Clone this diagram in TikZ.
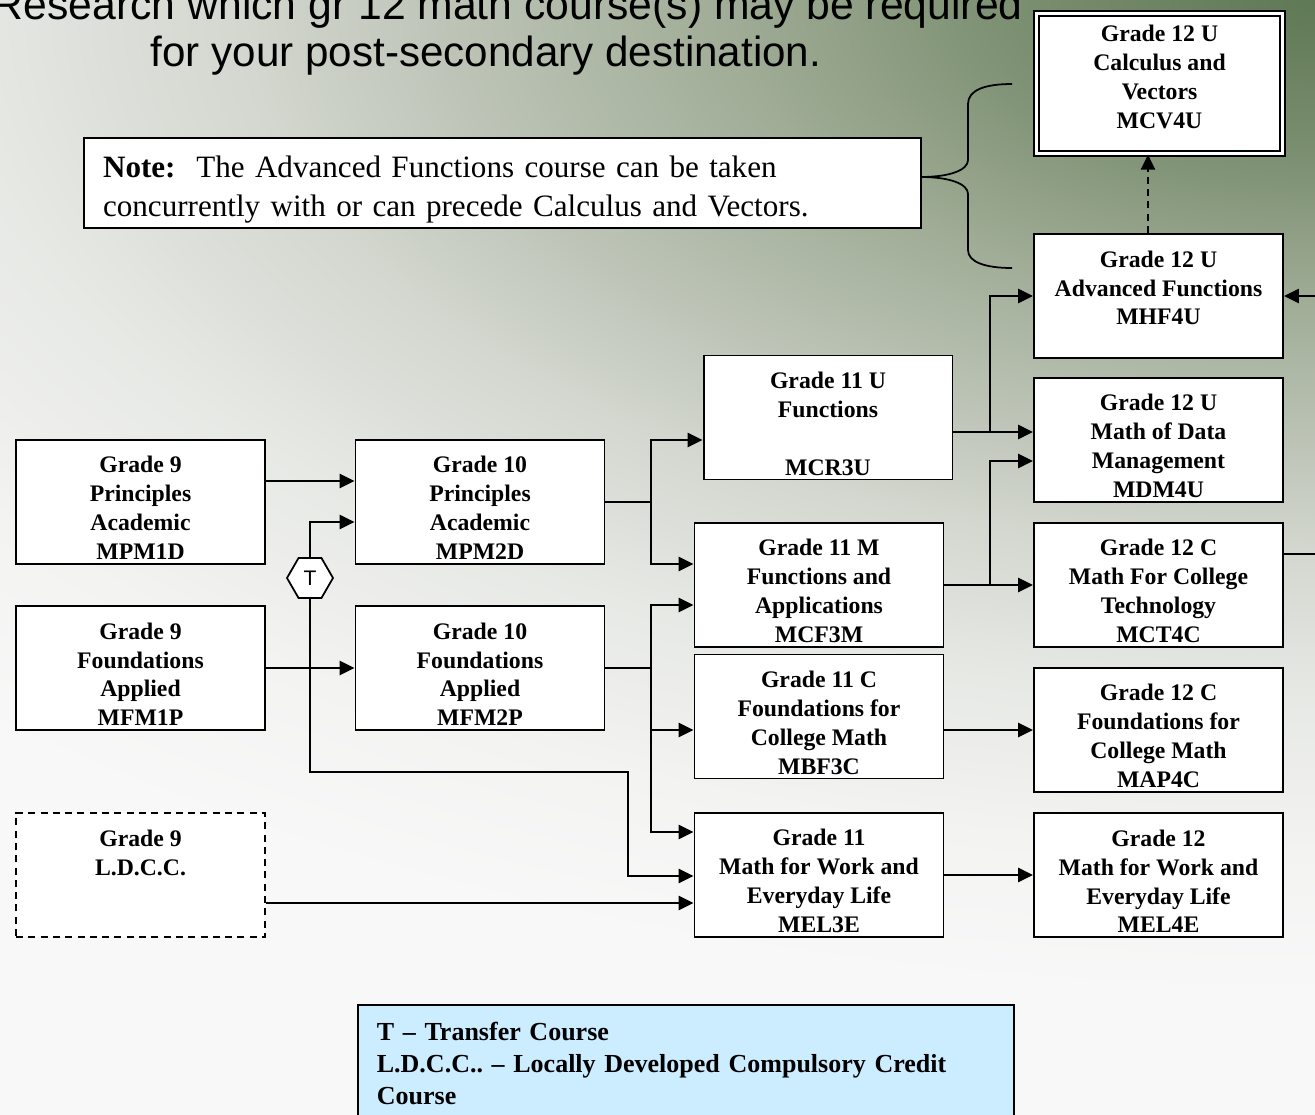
\documentclass[tikz,border=0pt]{standalone}
\usepackage{fontspec}
\setmainfont{Liberation Serif}
\newfontfamily\slidefont{Liberation Sans}
\usetikzlibrary{arrows.meta,shapes.geometric}

\definecolor{bg0}{RGB}{95,120,85}
\definecolor{bg1}{RGB}{122,142,112}
\definecolor{bg2}{RGB}{160,172,150}
\definecolor{bg3}{RGB}{190,197,184}
\definecolor{bg4}{RGB}{211,215,207}
\definecolor{bg5}{RGB}{231,233,229}
\definecolor{bg6}{RGB}{243,243,242}
\definecolor{bg7}{RGB}{248,248,248}
\definecolor{keyblue}{RGB}{204,236,255}
\pgfdeclareradialshading{slidebg}{\pgfpointorigin}{color(0bp)=(bg0); color(3.75bp)=(bg1); color(7.5bp)=(bg2);
  color(11.25bp)=(bg3); color(13.75bp)=(bg4); color(17.5bp)=(bg5); color(21.25bp)=(bg6); color(25bp)=(bg7); color(50bp)=(bg7)}

\newcommand\gradeline{\rule{0pt}{16.5pt}}
\newcommand\noteline{\rule{0pt}{20pt}}

\tikzset{
  course/.style={draw, fill=white, line width=1.1pt, minimum width=4.98cm, minimum height=2.48cm,
    inner sep=0pt, align=center, font=\bfseries\fontsize{13.5}{16.5}\selectfont},
  ldbox/.style={course, dash pattern=on 4pt off 3pt},
  calcbox/.style={course, double, double distance=1.8pt, line width=1.3pt, minimum width=4.92cm, minimum height=2.8cm},
  notebox/.style={draw, fill=white, line width=1.1pt, minimum width=16.74cm, minimum height=1.8cm,
    text width=15.98cm, inner xsep=0.38cm, inner ysep=0pt, align=left, font=\fontsize{17.7}{22.2}\selectfont},
  keybox/.style={draw, fill=keyblue, line width=1pt, text width=12.36cm, inner xsep=0.38cm, inner ysep=0.34cm,
    align=left, font=\frenchspacing\bfseries\fontsize{14.8}{18.2}\selectfont},
  headline/.style={anchor=base, font=\slidefont\fontsize{24}{26.7}\selectfont},
  transfer/.style={draw, fill=white, line width=1pt, regular polygon, regular polygon sides=6,
    minimum size=0.92cm, inner sep=0pt, font=\slidefont\fontsize{12}{14}\selectfont},
  link/.style={line width=1.2pt},
  feed/.style={link, -{Triangle[length=8.5pt,width=8pt]}}
}

\begin{document}
\begin{tikzpicture}[x=0.02cm, y=-0.02cm]
  \useasboundingbox (0,0) rectangle (1315,1115);
  \begin{scope}
    \clip (0,0) rectangle (1315,1115);
    \fill[bg7] (0,0) rectangle (1315,1115);
    \shade[shading=slidebg] (1315,0) ellipse [x radius=39cm, y radius=20cm];
  \end{scope}

  \node[headline, anchor=base east, font=\slidefont\fontsize{24.3}{26.7}\selectfont] (research) at (1029,20)
    {Research which gr 12 math course(s) may be required};
  \node[headline] (destination) at (486,67) {for your post-secondary destination.};

  \node[notebox] (note) at (502.5,183)
    {\noteline\textbf{Note:}\ \ The Advanced Functions course can be taken\\concurrently with or can precede Calculus and Vectors.};
  \draw[line width=1pt] (1012,84) .. controls (985,84) and (968,90) .. (968,104) -- (968,160)
    .. controls (968,170) and (950,177) .. (921,177)
    .. controls (950,177) and (968,184) .. (968,194) -- (968,250)
    .. controls (968,262) and (985,268) .. (1012,268);

  \node[course] (mpm1d) at (140.5,502) {\gradeline Grade 9\\Principles\\Academic\\MPM1D};
  \node[course] (mfm1p) at (140.5,668) {\gradeline Grade 9\\Foundations\\Applied\\MFM1P};
  \node[ldbox] (ldccc) at (140.5,875) {\gradeline Grade 9\\L.D.C.C.\\\mbox{}\\\mbox{}};
  \node[course] (mpm2d) at (480,502) {\gradeline Grade 10\\Principles\\Academic\\MPM2D};
  \node[course] (mfm2p) at (480,668) {\gradeline Grade 10\\Foundations\\Applied\\MFM2P};
  \node[course] (mcr3u) at (828,417.5) {\gradeline Grade 11 U\\Functions\\\mbox{}\\MCR3U};
  \node[course] (mcf3m) at (819,585) {\gradeline Grade 11 M\\Functions and\\Applications\\MCF3M};
  \node[course] (mbf3c) at (819,716.5) {\gradeline Grade 11 C\\Foundations for\\College Math\\MBF3C};
  \node[course] (mel3e) at (819,875) {\gradeline Grade 11\\Math for Work and\\Everyday Life\\MEL3E};
  \node[course] (mhf4u) at (1158.5,296) {\gradeline Grade 12 U\\Advanced Functions\\MHF4U\\\mbox{}};
  \node[course] (mdm4u) at (1158.5,440) {\gradeline Grade 12 U\\Math of Data\\Management\\MDM4U};
  \node[course] (mct4c) at (1158.5,585) {\gradeline Grade 12 C\\Math For College\\Technology\\MCT4C};
  \node[course] (map4c) at (1158.5,730) {\gradeline Grade 12 C\\Foundations for\\College Math\\MAP4C};
  \node[course] (mel4e) at (1158.5,875) {\gradeline Grade 12\\Math for Work and\\Everyday Life\\MEL4E};
  \node[calcbox] (mcv4u) at (1159.5,83.5) {Grade 12 U\\Calculus and\\Vectors\\MCV4U\rule[-7.4pt]{0pt}{7.4pt}};
  \node[transfer] (hex) at (310,578) {T};

  \coordinate (split2d) at (651,502);
  \coordinate (split2p) at (651,668);
  \coordinate (split3u) at (990,432);
  \coordinate (split3m) at (990,585);
  \coordinate (bend) at (628,772);
  \coordinate (loop) at (1345,554);

  \draw[feed] (mpm1d.east |- 0,481) -- (mpm2d.west |- 0,481);
  \draw[feed] (mfm1p) -- (mfm2p);
  \draw[feed] (hex.north) |- (mpm2d.west |- 0,522);
  \draw[feed] (hex.south) |- (bend) |- (mel3e.west |- 0,876);
  \draw[feed] (ldccc.east |- 0,903) -- (mel3e.west |- 0,903);

  \draw[link] (mpm2d.east) -- (split2d);
  \draw[feed] (split2d) |- (mcr3u.west |- 0,440);
  \draw[feed] (split2d) |- (mcf3m.west |- 0,564);
  \draw[link] (mfm2p.east) -- (split2p);
  \draw[feed] (split2p) |- (mcf3m.west |- 0,605);
  \draw[feed] (split2p) |- (mbf3c.west |- 0,730);
  \draw[feed] (split2p) |- (mel3e.west |- 0,832);

  \draw[feed] (mcr3u.east |- split3u) -- (mdm4u.west |- split3u);
  \draw[feed] (split3u) |- (mhf4u);
  \draw[feed] (mcf3m) -- (mct4c);
  \draw[feed] (split3m) |- (mdm4u.west |- 0,461);
  \draw[feed] (mct4c.east |- loop) -- (loop) |- (mhf4u);
  \draw[feed] (mbf3c.east |- map4c) -- (map4c);
  \draw[feed] (mel3e) -- (mel4e);
  \draw[feed, dash pattern=on 4pt off 3pt] (mhf4u.north -| 1148,0) -- (mcv4u.south -| 1148,0);

  \node[keybox, anchor=north west] (key) at (357,1004)
    {T -- Transfer Course\\L.D.C.C.. -- Locally Developed Compulsory Credit\\Course};
\end{tikzpicture}
\end{document}
